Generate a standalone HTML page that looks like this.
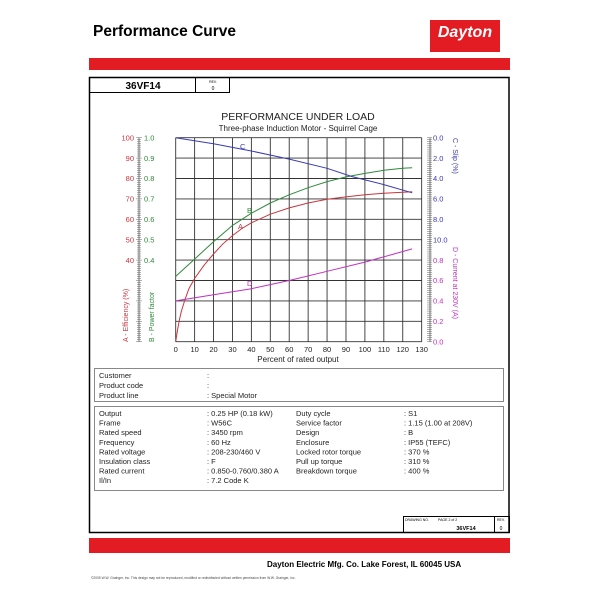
<!DOCTYPE html>
<html><head><meta charset="utf-8"><style>
html,body{margin:0;padding:0;background:#fff;}
svg{display:block;font-family:"Liberation Sans",Arial,sans-serif;}
</style></head><body>
<svg width="600" height="600" viewBox="0 0 600 600" xmlns="http://www.w3.org/2000/svg">
<rect width="600" height="600" fill="#fff"/>
<text x="93" y="36" font-size="15.5" font-weight="bold" fill="#000">Performance Curve</text>
<rect x="430" y="20" width="70" height="32" fill="#e31b23"/>
<text x="465" y="37" font-size="16" font-weight="bold" font-style="italic" fill="#fff" text-anchor="middle">Dayton</text>
<rect x="89" y="58" width="421" height="12" fill="#e31b23"/>
<rect x="89.5" y="77.5" width="419.5" height="455" fill="none" stroke="#000" stroke-width="1.5"/>
<rect x="89.5" y="77.5" width="106" height="15" fill="none" stroke="#000"/>
<rect x="195.5" y="77.5" width="34" height="15" fill="none" stroke="#000"/>
<text x="143" y="89" font-size="10" font-weight="bold" text-anchor="middle">36VF14</text>
<text x="213" y="83" font-size="3.5" text-anchor="middle">REV.</text>
<text x="213" y="90" font-size="5" text-anchor="middle">0</text>

<text x="298" y="120" font-size="10.5" text-anchor="middle" fill="#222">PERFORMANCE UNDER LOAD</text>
<text x="298" y="131" font-size="8" text-anchor="middle" fill="#222">Three-phase Induction Motor - Squirrel Cage</text>

<g stroke="#333" stroke-width="0.9" fill="none" id="grid"></g>
<g id="ticks"></g>
<g id="curves"></g>

<g font-size="7.5" id="labels"></g>
<text transform="translate(128,342) rotate(-90)" font-size="7" fill="#c8363e">A - Efficiency (%)</text>
<text transform="translate(154,342) rotate(-90)" font-size="7" fill="#2e8b3a">B - Power factor</text>
<text transform="translate(453,138) rotate(90)" font-size="7" fill="#3a3ab0">C - Slip (%)</text>
<text transform="translate(453,247) rotate(90)" font-size="7" fill="#c030c0">D - Current at 230V (A)</text>
<text x="298" y="362" font-size="8" text-anchor="middle" fill="#222">Percent of rated output</text>

<rect x="94.5" y="368.5" width="409" height="33" fill="none" stroke="#888"/>
<g font-size="7.5" fill="#222">
<text x="99" y="378">Customer</text><text x="207" y="378">:</text>
<text x="99" y="388">Product code</text><text x="207" y="388">:</text>
<text x="99" y="398">Product line</text><text x="207" y="398">:  Special Motor</text>
</g>
<rect x="94.5" y="406.5" width="409" height="84" fill="none" stroke="#888"/>
<g font-size="7.5" fill="#222" id="spec"></g>

<rect x="403.5" y="516.5" width="106" height="16" fill="none" stroke="#000"/>
<line x1="494.5" y1="516.5" x2="494.5" y2="532.5" stroke="#000"/>
<text x="405" y="521" font-size="3.5">DRAWING NO.</text>
<text x="438" y="521" font-size="3.5">PAGE 2 of 2</text>
<text x="497" y="521" font-size="3.5">REV.</text>
<text x="466" y="530" font-size="5.5" font-weight="bold" text-anchor="middle">36VF14</text>
<text x="501" y="530" font-size="5" text-anchor="middle">0</text>

<rect x="89" y="538" width="421" height="15" fill="#e31b23"/>
<text x="267" y="567" font-size="8" font-weight="bold">Dayton Electric Mfg. Co.  Lake Forest, IL  60045  USA</text>
<text x="91" y="579" font-size="3.3" fill="#444">©2005 W.W. Grainger, Inc.   This design may not be reproduced, modified or redistributed without written permission from W.W. Grainger, Inc.</text>
</svg>
<script>
const NS="http://www.w3.org/2000/svg";
function el(p,t,a,txt){const e=document.createElementNS(NS,t);for(const k in a)e.setAttribute(k,a[k]);if(txt!==undefined)e.textContent=txt;document.getElementById(p).appendChild(e);return e;}
const X0=175.7,XS=1.892,YB=341.7,YS=2.04;
const px=x=>X0+x*XS, pyA=v=>YB-v*YS;
for(let i=0;i<=13;i++){el("grid","line",{x1:px(i*10),y1:137.7,x2:px(i*10),y2:YB});
 el("labels","text",{x:px(i*10),y:352,"text-anchor":"middle",fill:"#222"},i*10);}
for(let j=0;j<=10;j++){el("grid","line",{x1:X0,y1:YB-j*20.4,x2:px(130),y2:YB-j*20.4});}
el("ticks","line",{x1:139,y1:137.7,x2:139,y2:YB,stroke:"#555","stroke-width":0.8});
for(let v=0;v<=100;v++){const y=YB-v*YS;const w=v%10==0?3:2;el("ticks","line",{x1:139-w,y1:y,x2:139+w,y2:y,stroke:"#666","stroke-width":0.5});}
for(let v=40;v<=100;v+=10){const y=pyA(v)+2.7;el("labels","text",{x:134,y:y,"text-anchor":"end",fill:"#c8363e"},v);
 el("labels","text",{x:144,y:y,fill:"#2e8b3a"},(v/100).toFixed(1));}
el("ticks","line",{x1:430,y1:137.7,x2:430,y2:YB,stroke:"#555","stroke-width":0.8});
for(let v=0;v<=100;v++){const y=YB-v*YS;el("ticks","line",{x1:427,y1:y,x2:432,y2:y,stroke:"#666","stroke-width":0.5});}
for(let k=0;k<=5;k++){el("labels","text",{x:433,y:137.7+k*20.4+2.7,fill:"#3a3ab0"},(k*2).toFixed(1));}
for(let k=0;k<=4;k++){el("labels","text",{x:433,y:YB-k*20.4+2.7,fill:"#c030c0"},(k*0.2).toFixed(1));}
function curve(pts,fy,col){let d="";pts.forEach((p,i)=>{d+=(i?"L":"M")+px(p[0]).toFixed(1)+","+fy(p[1]).toFixed(1);});
 el("curves","path",{d:d,fill:"none",stroke:col,"stroke-width":1});}
curve([[0,0],[1,6],[2,11],[3,15],[5,21],[7,26],[10,31],[15,37.5],[20,43],[25,48],[30,52],[35,55.5],[40,58.3],[50,62.5],[60,65.6],[70,68],[80,69.8],[90,71],[100,72],[110,72.8],[125,73.5]],pyA,"#c8363e");
curve([[0,32],[10,40.5],[20,49],[30,57],[40,63],[50,68],[60,72],[70,75.5],[80,78.5],[90,80.8],[100,82.5],[110,84],[120,85],[125,85.3]],pyA,"#2e8b3a");
curve([[0,0],[20,0.6],[40,1.3],[60,2.1],[80,3.0],[93,3.8],[110,4.6],[125,5.4]],s=>137.7+s*10.2,"#3a3ab0");
curve([[0,0.40],[20,0.46],[40,0.52],[60,0.60],[80,0.69],[100,0.78],[125,0.91]],I=>YB-I*102,"#c030c0");
el("labels","text",{x:240,y:149,fill:"#3a3ab0"},"C");
el("labels","text",{x:247,y:213,fill:"#2e8b3a"},"B");
el("labels","text",{x:238,y:229,fill:"#c8363e"},"A");
el("labels","text",{x:247,y:286,fill:"#c030c0"},"D");
const L=[["Output",": 0.25 HP (0.18 kW)","Duty cycle",": S1"],["Frame",": W56C","Service factor",": 1.15   (1.00 at 208V)"],["Rated speed",": 3450 rpm","Design",": B"],["Frequency",": 60 Hz","Enclosure",": IP55 (TEFC)"],["Rated voltage",": 208-230/460 V","Locked rotor torque",": 370 %"],["Insulation class",": F","Pull up torque",": 310 %"],["Rated current",": 0.850-0.760/0.380 A","Breakdown torque",": 400 %"],["Il/In",": 7.2   Code K","",""]];
L.forEach((r,i)=>{const y=416+i*9.6;[99,207,296,404].forEach((x,j)=>el("spec","text",{x:x,y:y},r[j]));});
</script>
</body></html>
